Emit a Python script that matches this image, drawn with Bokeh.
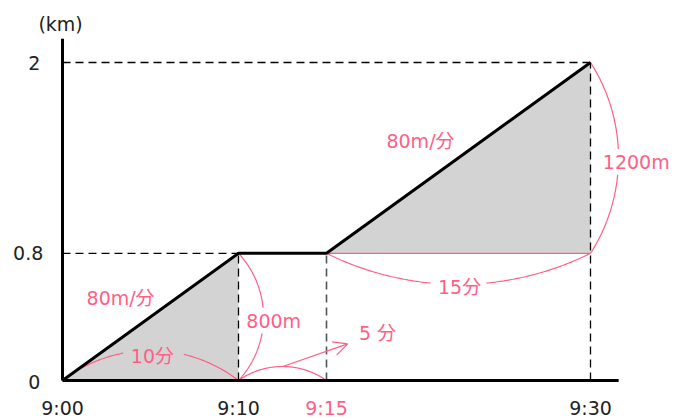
import numpy as np
from bokeh.plotting import figure
from bokeh.models import Range1d, Arrow, OpenHead
from bokeh.core.properties import value
from bokeh.embed import file_html
from bokeh.resources import INLINE

# ---- data ----
times = [0, 10, 15, 30]                 # minutes after 9:00
dist = [0, 0.8, 0.8, 2]                 # km
x_tick_labels = ["9:00", "9:10", "9:15", "9:30"]
x_tick_colors = ["#222222", "#222222", "#ff5f86", "#222222"]
y_ticks = [2, 0.8, 0]
y_tick_labels = ["2", "0.8", "0"]
y_label_x = [-1.6, -1.95, -1.6]
unit_label = "(km)"

PINK = "#ff5f86"
FONT = value("DejaVu Sans ExtraLight, DejaVu Sans, Noto Sans CJK JP")

# ---- figure geometry ----
W, H = 682, 419
SXP, SYP = 17.6, 159.0          # pixels per minute / per km
OX, OY = 62, 380                # origin position in pixels
X0, X1 = -OX / SXP, (W - OX) / SXP
Y0, Y1 = (OY - H) / SYP, OY / SYP
sx = W / (X1 - X0)
sy = H / (Y1 - Y0)

p = figure(width=W, height=H, output_backend="svg", toolbar_location=None,
           x_range=Range1d(X0, X1), y_range=Range1d(Y0, Y1),
           x_axis_location=None, y_axis_location=None, min_border=0)
p.outline_line_color = None
p.xgrid.visible = False
p.ygrid.visible = False
p.background_fill_color = "white"

# shaded triangles
p.patch([times[0], times[1], times[1]], [dist[0], dist[1], dist[0]],
        fill_color="#d3d3d3", line_color=None)
p.patch([times[2], times[3], times[3]], [dist[2], dist[3], dist[2]],
        fill_color="#d3d3d3", line_color=None)

# dashed guide lines
p.segment(x0=[0, 0], y0=[dist[3], dist[1]], x1=[times[3], times[1]], y1=[dist[3], dist[1]],
          line_color="black", line_width=1.3, line_dash="8 5")
p.segment(x0=[times[1], times[3]], y0=[0, 0], x1=[times[1], times[3]], y1=[dist[1], dist[3]],
          line_color="black", line_width=1.3, line_dash="8 5")
p.segment(x0=[times[2]], y0=[0], x1=[times[2]], y1=[dist[2]],
          line_color="#555555", line_width=1.6, line_dash="8 5")

# pink base of upper triangle
p.line([times[2], times[3]], [dist[2], dist[2]], line_color=PINK, line_width=1.2)


def arc(p0, p1, sag, gap=None, n=120):
    x0, y0 = p0[0] * sx, -p0[1] * sy
    x1, y1 = p1[0] * sx, -p1[1] * sy
    dx, dy = x1 - x0, y1 - y0
    L = np.hypot(dx, dy)
    ux, uy = dx / L, dy / L
    nx, ny = uy, -ux
    s_abs = abs(sag)
    R = (L * L / 4 + s_abs * s_abs) / (2 * s_abs)
    t = np.linspace(0, 1, n)
    s = (t - 0.5) * L
    h = (np.sqrt(R * R - s * s) - (R - s_abs)) * np.sign(sag)
    mx, my = (x0 + x1) / 2, (y0 + y1) / 2
    px = mx + s * ux + h * nx
    py = my + s * uy + h * ny
    xs = px / sx
    ys = -py / sy
    if gap is not None:
        m = (t > gap[0]) & (t < gap[1])
        xs = xs.copy(); ys = ys.copy()
        xs[m] = np.nan; ys[m] = np.nan
    return xs, ys


arcs = [
    ((times[0], dist[0]), (times[1], dist[0]), 30, (0.347, 0.682)),
    ((times[1], dist[1]), (times[1], dist[0]), 25, (0.433, 0.630)),
    ((times[1], dist[0]), (times[2], dist[0]), 14, None),
    ((times[2], dist[2]), (times[3], dist[2]), -31, (0.396, 0.604)),
    ((times[3], dist[3]), (times[3], dist[2]), 28, (0.461, 0.581)),
]
for a0, a1, sg, gp in arcs:
    xs, ys = arc(a0, a1, sg, gp)
    p.line(xs, ys, line_color=PINK, line_width=1.2)

# arrow pointing to "5 分"
ax_, ay_ = arc((times[1], 0), (times[2], 0), 14)
mid = len(ax_) // 2
p.add_layout(Arrow(end=OpenHead(size=14, line_color=PINK, line_width=1.2),
                   x_start=ax_[mid], y_start=ay_[mid], x_end=16.2, y_end=0.23,
                   line_color=PINK, line_width=1.2))

# main graph line
p.line(times, dist, line_color="black", line_width=3)

# axes
p.line([0, 31.6], [0, 0], line_color="black", line_width=3)
p.line([0, 0], [0, 2.15], line_color="black", line_width=3)

# tick labels
p.text(x=times, y=[-0.17] * 4, text=x_tick_labels, text_color=x_tick_colors,
       text_font=FONT, text_font_size="19px", text_align="center", text_baseline="middle")
p.text(x=y_label_x, y=[v - (0.012 if v == 0 else 0) for v in y_ticks], text=y_tick_labels,
       text_color="#222222", text_font=FONT, text_font_size="19px",
       text_align="center", text_baseline="middle")
p.text(x=[-0.11], y=[2.245], text=[unit_label], text_color="#222222", text_font=FONT,
       text_font_size="19px", text_align="center", text_baseline="middle")

# pink annotations
ann_text = ["80m/分", "10分", "800m", "5 分", "15分", "80m/分", "1200m"]
ann_x = [3.3, 5.11, 12.0, 17.9, 22.56, 20.34, 32.6]
ann_y = [0.516, 0.157, 0.377, 0.296, 0.585, 1.509, 1.377]
p.text(x=ann_x, y=ann_y, text=ann_text, text_color=PINK, text_font=FONT,
       text_font_size="19px", text_align="center", text_baseline="middle")

open("out.html", "w").write(file_html(p, INLINE))
